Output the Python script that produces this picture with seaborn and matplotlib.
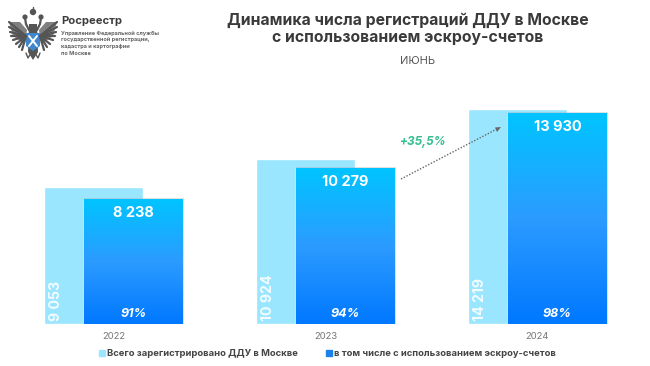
import pandas as pd
import numpy as np
import matplotlib
matplotlib.use('Agg')
from matplotlib import pyplot as plt
from matplotlib.patches import Polygon, Rectangle, Circle
from matplotlib.colors import LinearSegmentedColormap
import seaborn as sns

years = ['2022', '2023', '2024']
total = [9053, 10924, 14219]
escrow = [8238, 10279, 13930]
total_labels = ['9 053', '10 924', '14 219']
escrow_labels = ['8 238', '10 279', '13 930']
shares = ['91%', '94%', '98%']
growth = '+35,5%'
title = 'Динамика числа регистраций ДДУ в Москве\nс использованием эскроу-счетов'
subtitle = 'ИЮНЬ'
legend_names = ['Всего зарегистрировано ДДУ в Москве', 'в том числе с использованием эскроу-счетов']
org_name = 'Росреестр'
org_lines = ['Управление Федеральной службы', 'государственной регистрации,', 'кадастра и картографии', 'по Москве']

sns.set_theme(style = 'white')
plt.rcParams['font.family'] = ['Inter', 'DejaVu Sans']

light = '#9BE6FF'
grad = LinearSegmentedColormap.from_list('grad', ['#00C4FF', '#2C9BFF', '#0078FF'])

fig = plt.figure(figsize = (6.5, 3.66), dpi = 100, facecolor = 'white')
ax = fig.add_axes([0, 42 / 366, 1, 324 / 366])

df = pd.DataFrame({'year': years, 'total': total, 'escrow': escrow})
bar_w = 99 / 212
shift = 20 / 212

sns.barplot(data = df, x = 'year', y = 'total', color = light, saturation = 1, width = bar_w, ax = ax)
n_light = len(ax.patches)
sns.barplot(data = df, x = 'year', y = 'escrow', color = '#0078FF', saturation = 1, width = bar_w, ax = ax)
light_bars = ax.patches[:n_light]
dark_bars = ax.patches[n_light:]

for b in light_bars:
	b.set_x(b.get_x() - shift)
for b in dark_bars:
	b.set_x(b.get_x() + shift)

gradient = np.linspace(0, 1, 256).reshape(-1, 1)
for i, b in enumerate(dark_bars):
	x0, w, h = b.get_x(), b.get_width(), b.get_height()
	# soft shadow round the front bar
	ax.add_patch(Rectangle((x0 - 0.002, 0), w + 0.009, h + 70, color = '#5a6a78', alpha = 0.2, lw = 0, zorder = 2.5))
	ax.imshow(gradient, cmap = grad, extent = (x0, x0 + w, 0, h), aspect = 'auto', zorder = 3)
	ax.text(x0 + w / 2, h - 900, escrow_labels[i], color = 'white', fontsize = 10.5, fontweight = 'bold', ha = 'center', va = 'center', zorder = 4)
	ax.text(x0 + w / 2, 660, shares[i], color = 'white', fontsize = 9, fontweight = 'bold', style = 'italic', ha = 'center', va = 'center', zorder = 4)
for i, b in enumerate(light_bars):
	ax.text(b.get_x() + 0.058, 230, total_labels[i], color = 'white', alpha = 0.88, fontsize = 10.2, fontweight = 'bold', rotation = 90, ha = 'center', va = 'bottom', zorder = 4)

ax.set_xlim(-113.5 / 212, 536.5 / 212)
ax.set_ylim(0, 324 * 66.1)
ax.set_xlabel('')
ax.set_ylabel('')
ax.set_yticks([])
ax.tick_params(axis = 'x', length = 0, pad = 6, labelsize = 6.8, labelcolor = '#777777')
ax.patch.set_alpha(0)
sns.despine(ax = ax, left = True, bottom = True)

handles = [Rectangle((0, 0), 1, 1, color = light), Rectangle((0, 0), 1, 1, color = '#1A82E8')]
leg = fig.legend(handles, legend_names, ncol = 2, loc = 'center left', bbox_to_anchor = (99 / 650, 1 - 354 / 366), frameon = False,
	handlelength = 0.6, handleheight = 0.6, handletextpad = 0.2, columnspacing = 3.05, borderpad = 0, borderaxespad = 0,
	prop = {'size': 6.8, 'weight': 'bold'})
for t in leg.get_texts():
	t.set_color('#444444')

# overlay in pixel coordinates for the header, arrow and logo
top = fig.add_axes([0, 0, 1, 1], facecolor = 'none')
top.set_xlim(0, 650)
top.set_ylim(366, 0)
top.axis('off')

top.text(408, 29, title, color = '#3A3A3A', fontsize = 11.35, fontweight = 'bold', ha = 'center', va = 'center', linespacing = 1.22)
top.text(418, 61, subtitle, color = '#555555', fontsize = 8, ha = 'center', va = 'center')
top.text(422, 142, growth, color = '#35BE8F', fontsize = 8.5, fontweight = 'bold', style = 'italic', ha = 'center', va = 'center')
top.plot([401, 496], [179, 129.5], color = '#666666', lw = 1, linestyle = (0, (1, 1.2)), zorder = 6)
top.add_patch(Polygon([(501, 127), (495, 127.5), (497, 132)], closed = True, color = '#666666', lw = 0, zorder = 6))

top.text(61, 21, org_name, color = '#3C3C3C', fontsize = 8.1, fontweight = 'bold', ha = 'left', va = 'center')
for i, line in enumerate(org_lines):
	top.text(61, 33 + i * 6.7, line, color = '#666666', fontsize = 4.0, fontweight = 'bold', ha = 'left', va = 'center')

# logo: eagle, crowns and shield
eagle = '#555555'
tips = [(9, 22), (9, 27), (10, 32), (11, 36), (13, 40), (16, 44), (19, 47), (22, 50)]
for s in (-1, 1):
	for tx, ty in tips:
		top.plot([33 + s * 7, 33 + s * (33 - tx)], [36, ty], color = eagle, lw = 1.6, solid_capstyle = 'round')
	top.add_patch(Polygon([(33 + s * 6, 30), (33 + s * 13, 22), (33 + s * 24, 22), (33 + s * 20, 36), (33 + s * 8, 44)], closed = True, color = eagle, alpha = 0.75, lw = 0))
	top.plot([33 + s * 4, 33 + s * 7, 33 + s * 8], [30, 24, 18], color = eagle, lw = 1.6)
	top.add_patch(Circle((33 + s * 8, 17), 2.6, color = eagle, lw = 0))
	top.plot([33 + s * 2, 33 + s * 5, 33 + s * 7], [53, 58, 53], color = eagle, lw = 1)
top.add_patch(Circle((33, 12), 3.2, color = eagle, lw = 0))
top.plot([33, 33], [7, 10], color = eagle, lw = 1)
top.add_patch(Polygon([(29, 24), (37, 24), (38, 52), (33, 60), (28, 52)], closed = True, color = eagle, lw = 0))
top.add_patch(Polygon([(26, 33), (40, 33), (40, 46), (33, 51), (26, 46)], closed = True, color = '#3F86CC', lw = 0))
top.plot([29, 37], [36, 46], color = 'white', lw = 1.4)
top.plot([37, 29], [36, 46], color = 'white', lw = 1.4)

fig.savefig('out.png', dpi = 100)
